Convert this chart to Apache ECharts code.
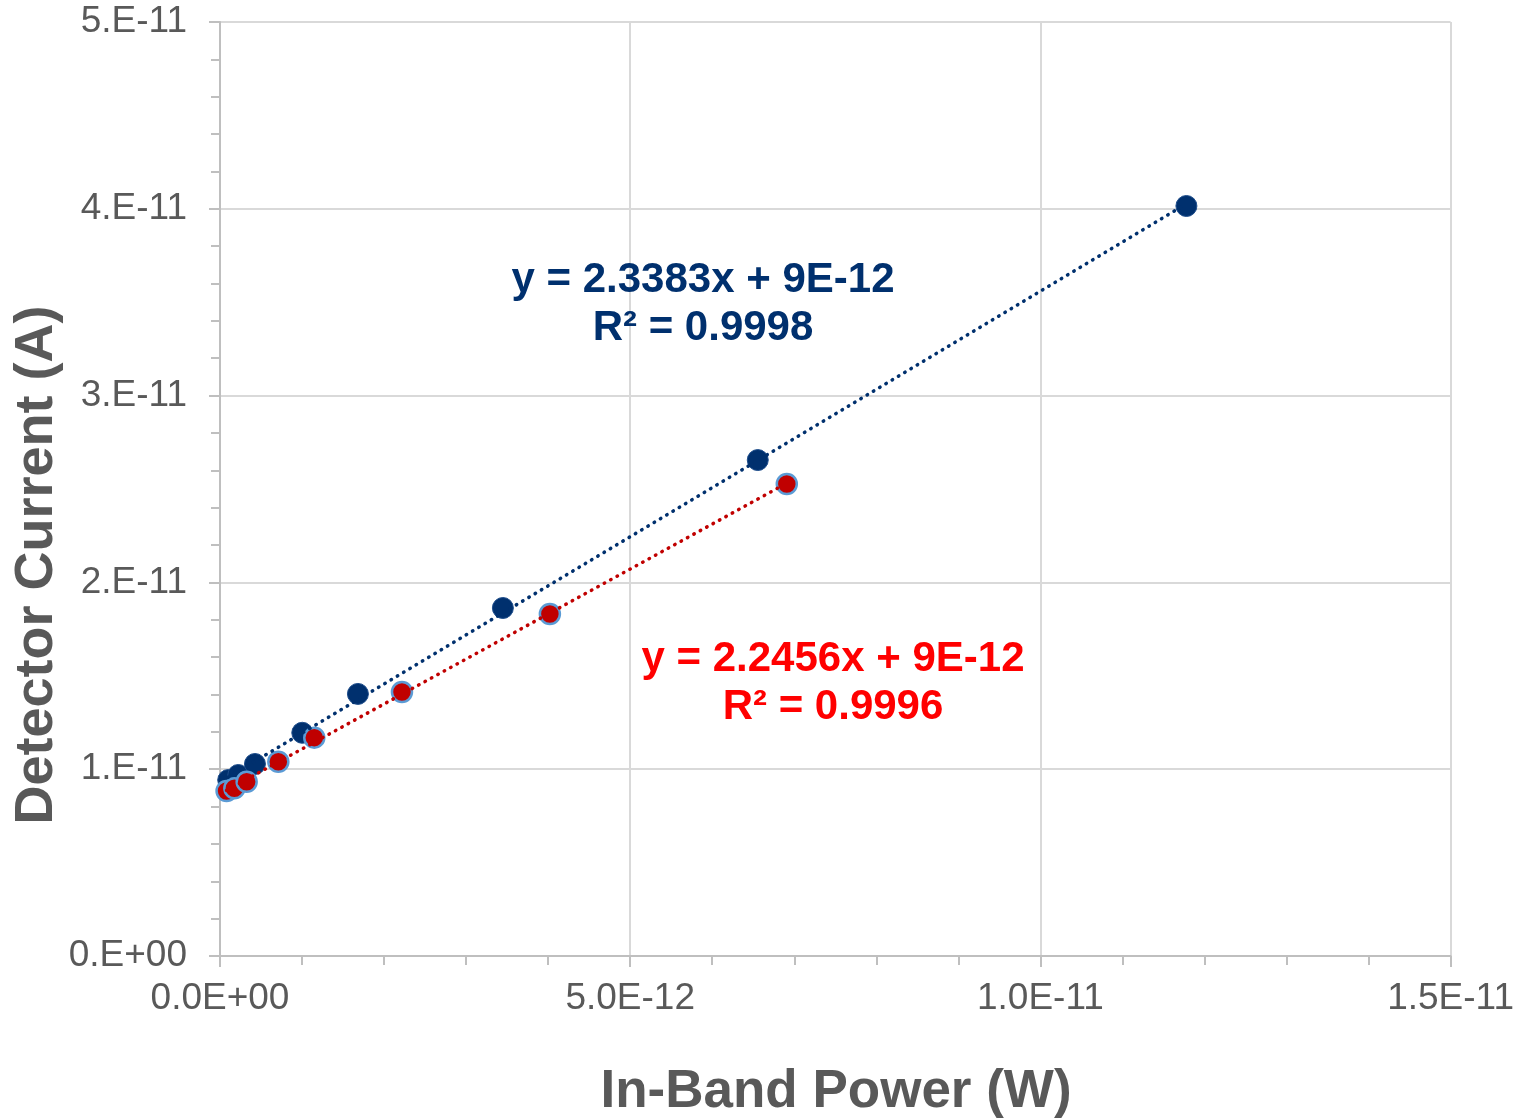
<!DOCTYPE html>
<html>
<head>
<meta charset="utf-8">
<script src="https://cdn.jsdelivr.net/npm/echarts@6/dist/echarts.min.js"></script>
<style>html,body{margin:0;padding:0;background:#fff}#c{width:1517px;height:1120px}</style>
</head>
<body>
<div id="c"></div>
<script>
// In-band power (W) and detector current (A)
const blueX = [0.10e-12, 0.223e-12, 0.426e-12, 1.003e-12, 1.681e-12, 3.448e-12, 6.555e-12, 11.78e-12];
const blueY = [9.42e-12, 9.69e-12, 10.28e-12, 11.95e-12, 14.03e-12, 18.63e-12, 26.55e-12, 40.15e-12];
const redX = [0.08e-12, 0.175e-12, 0.325e-12, 0.711e-12, 1.149e-12, 2.218e-12, 4.021e-12, 6.909e-12];
const redY = [8.83e-12, 8.98e-12, 9.33e-12, 10.40e-12, 11.69e-12, 14.13e-12, 18.31e-12, 25.27e-12];
const xTickLabels = ['0.0E+00', '5.0E-12', '1.0E-11', '1.5E-11'];
const yTickLabels = ['0.E+00', '1.E-11', '2.E-11', '3.E-11', '4.E-11', '5.E-11'];
const blueEq = ['y = 2.3383x + 9E-12', 'R² = 0.9998'];
const redEq = ['y = 2.2456x + 9E-12', 'R² = 0.9996'];
const xTitle = 'In-Band Power (W)';
const yTitle = 'Detector Current (A)';

function fit(xs, ys) {
  const n = xs.length;
  let sx = 0, sy = 0, sxx = 0, sxy = 0;
  for (let i = 0; i < n; i++) { sx += xs[i]; sy += ys[i]; sxx += xs[i] * xs[i]; sxy += xs[i] * ys[i]; }
  const m = (n * sxy - sx * sy) / (n * sxx - sx * sx);
  const b = (sy - m * sx) / n;
  const x0 = Math.min(...xs), x1 = Math.max(...xs);
  return [[x0, m * x0 + b], [x1, m * x1 + b]];
}
const pairs = (xs, ys) => xs.map((x, i) => [x, ys[i]]);

const FONT = '"Liberation Sans", Arial, sans-serif';
const BLUE = '#00306E', RED = '#C00000', GREY = '#595959';
const chart = echarts.init(document.getElementById('c'));
const dot = (c) => ({ color: c, width: 3.5, type: [0.5, 6.8], cap: 'round' });
const axisCommon = {
  axisLine: { show: true, lineStyle: { color: '#BFBFBF', width: 2 } },
  axisTick: { show: true, inside: false, length: 11, lineStyle: { color: '#BFBFBF', width: 2 } },
  minorTick: { show: true, splitNumber: 5, length: 9, lineStyle: { color: '#BFBFBF', width: 2 } },
  splitLine: { show: true, lineStyle: { color: '#D9D9D9', width: 2 } },
};

chart.setOption({
  animation: false,
  grid: { left: 220, right: 66, top: 22, bottom: 164 },
  xAxis: Object.assign({
    type: 'value', min: 0, max: 1.5e-11, interval: 5e-12,
    axisLabel: { margin: 24, fontFamily: FONT, fontSize: 37, color: GREY,
      formatter: (v) => xTickLabels[Math.round(v / 5e-12)] },
  }, axisCommon),
  yAxis: Object.assign({
    type: 'value', min: 0, max: 5e-11, interval: 1e-11,
    axisLabel: { margin: 33, fontFamily: FONT, fontSize: 37, color: GREY,
      formatter: (v) => yTickLabels[Math.round(v / 1e-11)] },
  }, axisCommon),
  series: [
    { type: 'scatter', data: pairs(blueX, blueY), symbolSize: 21,
      itemStyle: { color: BLUE, borderColor: '#1F4E8C', borderWidth: 1, opacity: 1 }, z: 2 },
    { type: 'scatter', data: pairs(redX, redY), symbolSize: 20,
      itemStyle: { color: RED, borderColor: '#5B9BD5', borderWidth: 2.5, opacity: 1 }, z: 3 },
    { type: 'line', data: fit(blueX, blueY), showSymbol: false, symbol: 'none', lineStyle: dot(BLUE), z: 4 },
    { type: 'line', data: fit(redX, redY), showSymbol: false, symbol: 'none', lineStyle: dot(RED), z: 4 },
  ],
  graphic: [
    { type: 'text', x: 703, y: 304, style: { text: blueEq.join('\n'), fill: BLUE, font: 'bold 42px ' + FONT, align: 'center', verticalAlign: 'middle', lineHeight: 48 }, z: 10 },
    { type: 'text', x: 833, y: 683, style: { text: redEq.join('\n'), fill: '#FF0000', font: 'bold 42px ' + FONT, align: 'center', verticalAlign: 'middle', lineHeight: 48 }, z: 10 },
    { type: 'text', x: 836, y: 1092, style: { text: xTitle, fill: GREY, font: 'bold 53px ' + FONT, align: 'center', verticalAlign: 'middle' } },
    { type: 'text', x: 37, y: 565, rotation: Math.PI / 2, style: { text: yTitle, fill: GREY, font: 'bold 54px ' + FONT, align: 'center', verticalAlign: 'middle' } },
  ],
});
</script>
</body>
</html>
